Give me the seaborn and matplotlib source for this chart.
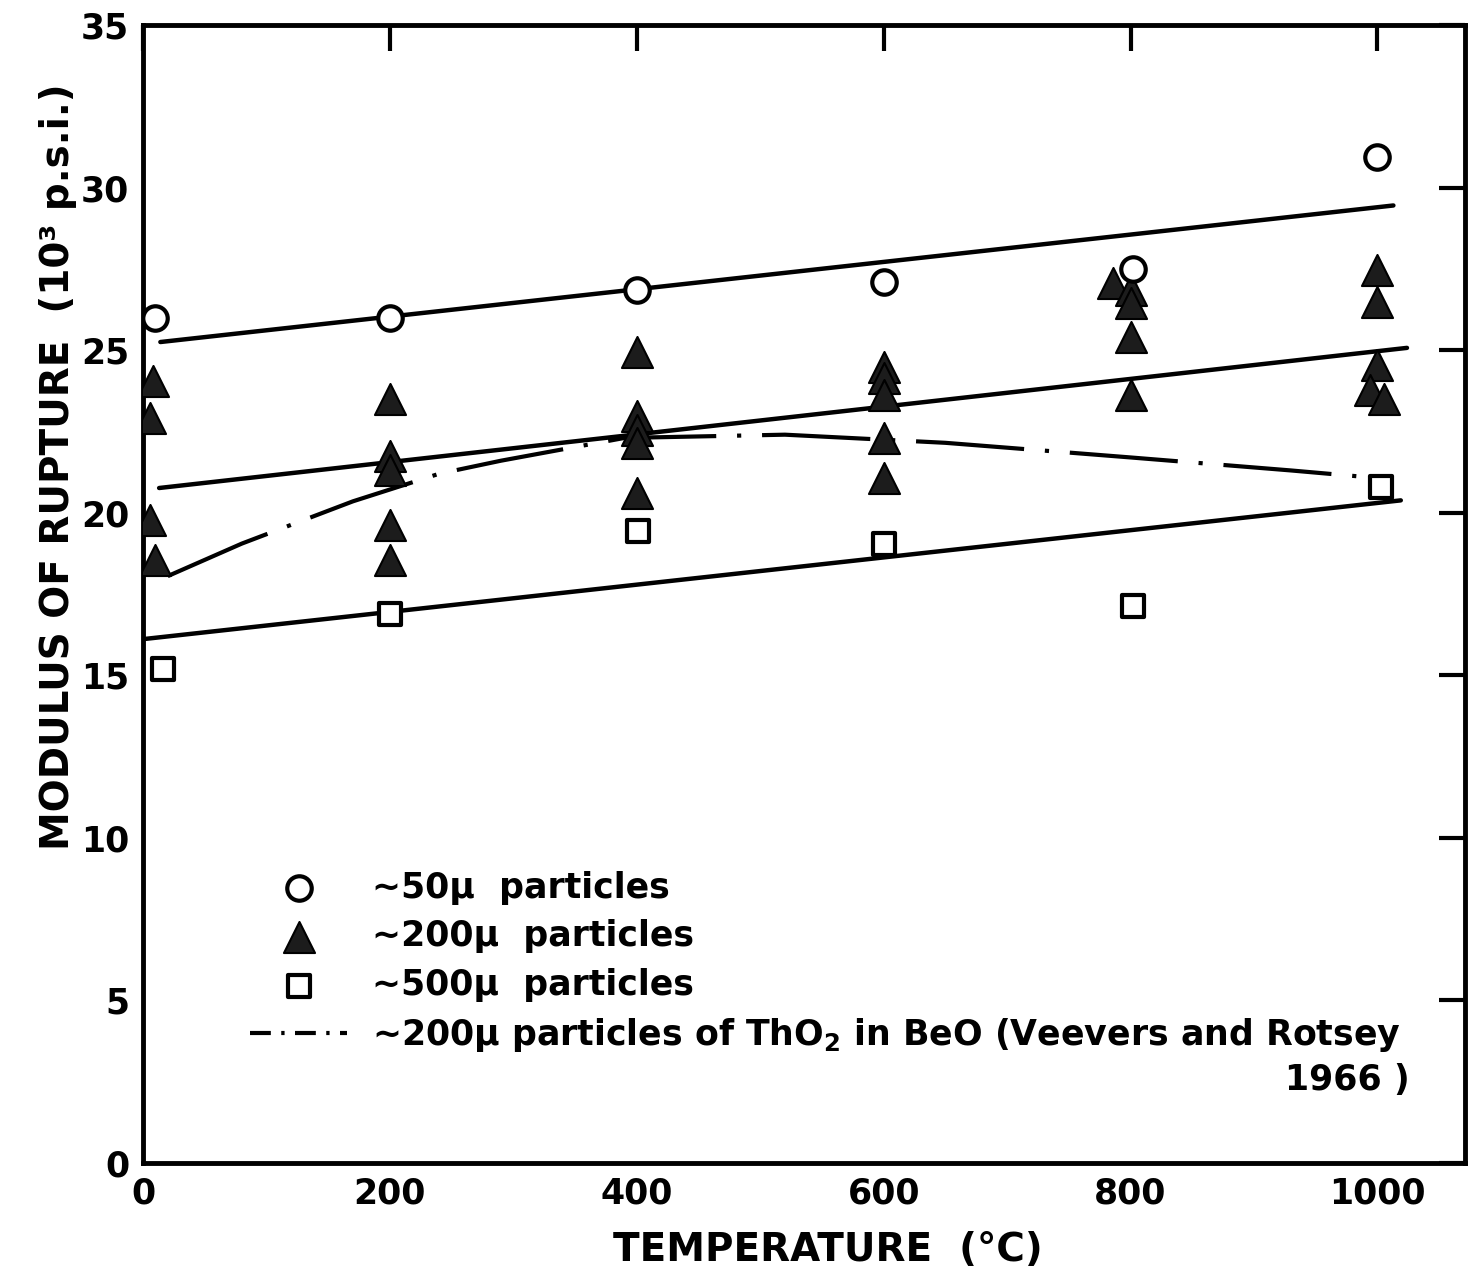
import numpy as np
import pandas as pd
import matplotlib
matplotlib.use("Agg")
import matplotlib.pyplot as plt
import seaborn as sns

# ==========================================
# data (temperature in °C, MOR in 10^3 p.s.i.)
# ==========================================
circ_x = [10, 200, 400, 600, 802, 1000]
circ_y = [26.0, 26.0, 26.85, 27.1, 27.5, 30.95]

tri_x = [8, 6, 6, 10,
         200, 200, 200, 200, 200,
         400, 400, 400, 400, 400,
         600, 600, 600, 600, 600,
         786, 800, 800, 800, 800,
         1000, 1000, 1000, 994, 1005]
tri_y = [24.05, 22.92, 19.78, 18.55,
         23.5, 21.75, 21.3, 19.62, 18.55,
         24.95, 22.98, 22.55, 22.15, 20.6,
         24.48, 24.15, 23.62, 22.3, 21.07,
         27.07, 26.85, 26.45, 25.4, 23.62,
         27.47, 26.48, 24.55, 23.78, 23.5]

sq_x = [16, 200, 401, 600, 802, 1003]
sq_y = [15.2, 16.9, 19.45, 19.05, 17.13, 20.8]

# fitted straight lines (end points)
fit50_x, fit50_y = [14, 1013], [25.25, 29.45]
fit200_x, fit200_y = [13, 1024], [20.76, 25.07]
fit500_x, fit500_y = [2, 1019], [16.12, 20.38]

# Veevers and Rotsey 1966 curve
vr_x = [20, 80, 170, 240, 290, 390, 520, 650, 800, 930, 990]
vr_y = [18.05, 19.05, 20.35, 21.2, 21.6, 22.3, 22.4, 22.15, 21.7, 21.3, 21.1]

x_ticks = [0, 200, 400, 600, 800, 1000]
y_ticks = [0, 5, 10, 15, 20, 25, 30, 35]

labels = ["\u223c50\u03bc  particles",
          "\u223c200\u03bc  particles",
          "\u223c500\u03bc  particles",
          "\u223c200\u03bc particles of ThO$_\\mathbf{2}$ in BeO (Veevers and Rotsey"]

sns.set_theme(style="white")
plt.rcParams["font.family"] = ["DejaVu Sans"]
plt.rcParams["font.weight"] = "bold"
plt.rcParams["mathtext.fontset"] = "dejavusans"
plt.rcParams["mathtext.default"] = "bf"
plt.rcParams["text.color"] = "black"
plt.rcParams["axes.labelcolor"] = "black"

fig, ax = plt.subplots(figsize=(14.78, 12.77), dpi=100)
fig.subplots_adjust(left=0.0968, right=0.9912, bottom=0.0893, top=0.9804)

# fit lines
for fx, fy in [(fit50_x, fit50_y), (fit200_x, fit200_y), (fit500_x, fit500_y)]:
    sns.lineplot(x=fx, y=fy, ax=ax, color="black", linewidth=3.2, legend=False)

# dash-dot curve
sns.lineplot(x=vr_x, y=vr_y, ax=ax, color="black", linewidth=3,
             label=labels[3], sort=False)
vr_line = ax.get_lines()[-1]
vr_line.set_dashes((26, 5, 1, 5))

# points
sns.scatterplot(x=circ_x, y=circ_y, ax=ax, marker="o", s=310,
                facecolor="white", edgecolor="black", linewidth=3,
                label=labels[0], zorder=5)
sns.scatterplot(x=tri_x, y=tri_y, ax=ax, marker="^", s=500,
                color="#1c1c1c", edgecolor="black", linewidth=1.5,
                label=labels[1], zorder=4)
sns.scatterplot(x=sq_x, y=sq_y, ax=ax, marker="s", s=250,
                facecolor="white", edgecolor="black", linewidth=3,
                label=labels[2], zorder=5)

ax.set_xlim(0, 1071)
ax.set_ylim(0, 35)
ax.set_xticks(x_ticks)
ax.set_yticks(y_ticks)
ax.tick_params(direction="in", top=True, right=True, length=19, width=3,
               labelsize=25, pad=10, colors="black")
for sp in ax.spines.values():
    sp.set_linewidth(3.5)
    sp.set_color("black")

ax.set_xlabel("TEMPERATURE  (\u00b0C)", fontsize=28, fontweight="bold")
ax.set_ylabel("MODULUS OF RUPTURE  (10\u00b3 p.s.i.)", fontsize=28,
              fontweight="bold")
ax.xaxis.set_label_coords(0.518, -0.06)
ax.yaxis.set_label_coords(-0.05, 0.612)

# legend in the original order
h, l = ax.get_legend_handles_labels()
order = [l.index(s) for s in labels]
leg = ax.legend([h[i] for i in order], [l[i] for i in order],
                loc="upper left", bbox_to_anchor=(0.081, 0.257),
                frameon=False, fontsize=25, handlelength=2.8,
                handletextpad=0.7, labelspacing=0.42, borderpad=0,
                borderaxespad=0, scatterpoints=1)
leg.get_lines()[0].set_dashes((5, 2.5, 0.8, 2.5))

ax.text(0.958, 0.073, "1966 )", transform=ax.transAxes, ha="right",
        va="center", fontsize=25)

plt.savefig("out.png", dpi=100)
